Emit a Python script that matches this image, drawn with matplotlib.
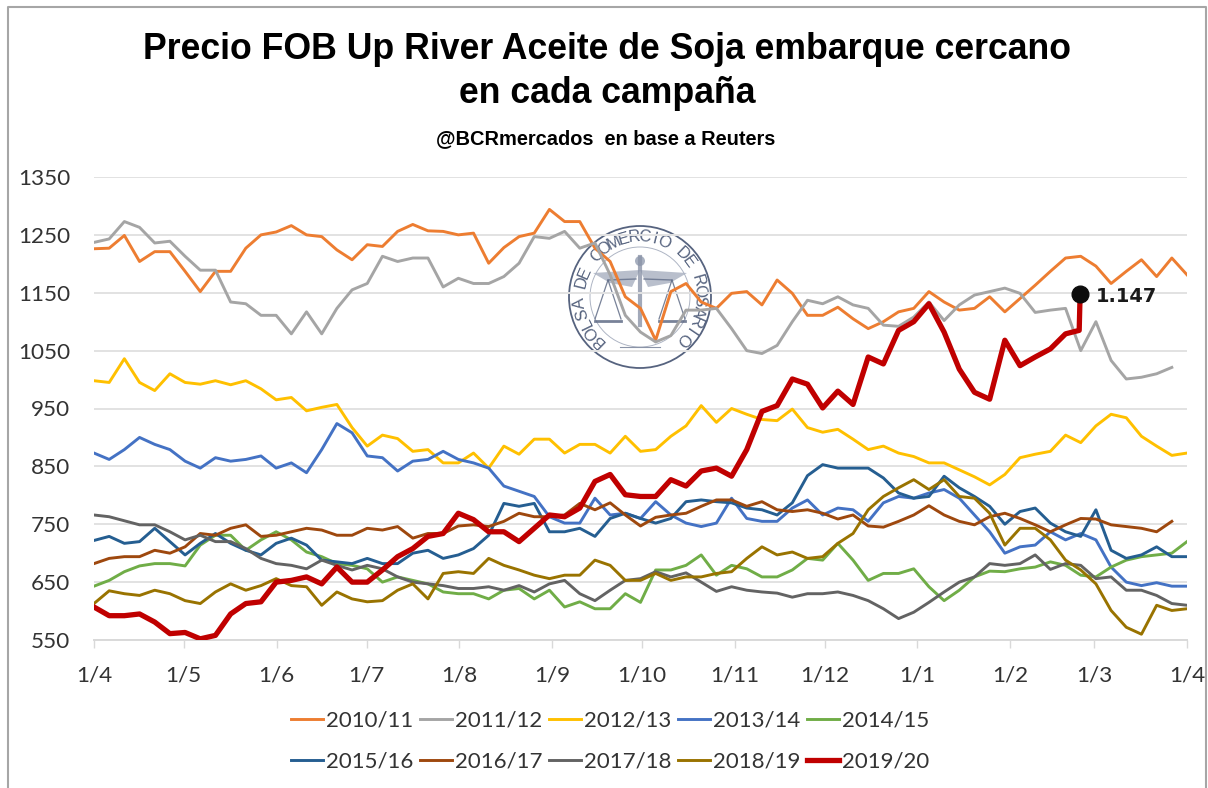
import numpy as np
import matplotlib
matplotlib.use("Agg")
import matplotlib.pyplot as plt
from matplotlib.patches import Circle, Polygon

TITLE = "Precio FOB Up River Aceite de Soja embarque cercano\nen cada campaña"
SUBTITLE = "@BCRmercados  en base a Reuters"
MONTH_LABELS = ["1/4","1/5","1/6","1/7","1/8","1/9","1/10","1/11","1/12","1/1","1/2","1/3","1/4"]
MONTH_DAYS = [0,30,61,91,122,153,183,214,244,275,306,334,365]
Y_TICKS = [550,650,750,850,950,1050,1150,1250,1350]
LAST_LABEL = "1.147"

s2010 = [1226,1227,1249,1204,1221,1221,1187,1152,1187,1187,1227,1250,1255,1266,1250,1247,1224,1207,1233,1230,1256,1268,1257,1256,1250,1253,1201,1228,1247,1253,1294,1273,1273,1227,1204,1143,1123,1068,1152,1166,1134,1123,1149,1152,1129,1172,1149,1111,1111,1125,1105,1088,1100,1117,1123,1152,1134,1120,1123,1143,1117,1140,1163,1187,1210,1213,1196,1166,1187,1207,1178,1210,1181]
s2011 = [1237,1243,1273,1263,1236,1239,1213,1189,1189,1134,1131,1111,1111,1079,1117,1079,1123,1155,1166,1213,1204,1210,1210,1160,1175,1166,1166,1178,1201,1247,1244,1256,1227,1236,1181,1111,1082,1065,1076,1120,1120,1123,1088,1050,1045,1059,1100,1137,1131,1143,1129,1123,1094,1092,1108,1134,1102,1129,1146,1152,1158,1149,1116,1120,1123,1050,1100,1033,1001,1004,1010,1021,np.nan]
s2012 = [998,995,1036,995,981,1010,995,992,998,991,998,984,965,969,946,952,957,917,885,904,898,876,879,856,856,873,847,885,871,897,897,873,888,888,873,902,876,879,902,920,955,926,950,940,931,929,949,917,909,914,897,879,885,873,867,856,856,844,832,818,836,865,871,876,904,891,920,940,934,902,885,869,873]
s2013 = [873,862,879,900,888,879,859,847,865,859,862,868,847,856,839,879,924,908,868,865,842,859,862,876,862,856,847,816,807,798,763,752,752,795,766,769,760,789,766,752,746,752,795,760,755,755,778,792,766,778,775,755,787,798,795,804,810,795,766,737,700,711,714,737,723,734,723,676,650,644,649,643,643]
s2014 = [643,653,668,678,682,682,678,714,731,731,705,723,737,723,702,694,682,679,673,650,659,653,647,633,630,630,621,636,639,621,636,607,616,604,604,630,615,671,671,679,697,662,679,673,659,659,671,691,688,717,688,653,665,665,673,642,618,636,659,669,668,673,676,685,679,662,659,676,688,694,697,700,720]
s2015 = [722,729,717,720,743,720,697,717,734,717,705,697,717,726,714,688,685,682,691,682,682,700,705,691,697,708,731,786,781,786,737,737,743,729,760,769,760,752,760,789,792,789,787,778,775,766,787,834,853,847,847,847,830,804,795,798,833,813,798,781,750,772,778,752,737,729,775,705,691,697,711,694,694]
s2016 = [682,691,694,694,705,700,711,734,731,743,749,729,731,737,743,740,731,731,743,740,746,726,734,734,747,749,746,755,769,763,763,766,786,775,787,766,747,762,766,769,781,792,792,781,789,775,772,775,769,759,766,747,745,755,766,782,766,755,749,763,769,760,749,737,749,760,759,749,746,743,737,755,np.nan]
s2017 = [766,763,756,749,749,737,723,731,720,720,708,691,682,679,673,688,679,671,679,673,659,650,647,644,639,639,642,636,644,633,647,653,630,618,636,653,656,668,659,666,650,634,642,636,633,631,624,630,630,633,627,618,604,587,598,615,633,650,659,682,679,682,697,672,682,679,656,659,636,636,627,613,610]
s2018 = [613,635,630,627,636,630,618,613,633,647,636,644,656,644,642,610,633,621,616,618,636,647,621,665,668,665,691,679,671,662,656,662,662,688,679,653,653,665,653,659,659,665,668,691,711,697,702,691,694,717,734,775,798,813,827,810,827,798,795,769,714,743,743,723,688,671,647,601,572,560,610,601,604]
s2019 = [607,592,592,595,581,561,563,552,558,595,613,616,650,653,659,647,676,650,650,671,694,708,729,734,769,758,737,737,720,743,766,763,778,824,836,801,798,798,827,816,842,847,833,879,945,955,1001,992,951,980,957,1039,1027,1085,1100,1131,1082,1018,978,966,1068,1024,1039,1053,1079,1085,1147]

SERIES = [("2010/11",s2010,"#ED7D31",2.1),("2011/12",s2011,"#A5A5A5",2.1),("2012/13",s2012,"#FFC000",2.1),
          ("2013/14",s2013,"#4472C4",2.1),("2014/15",s2014,"#70AD47",2.1),("2015/16",s2015,"#255E91",2.1),
          ("2016/17",s2016,"#9E480E",2.1),("2017/18",s2017,"#636363",2.1),("2018/19",s2018,"#997300",2.1),
          ("2019/20",s2019,"#C00000",3.8)]

W, H = 1208, 788
fig = plt.figure(figsize=(W/100, H/100), dpi=100, facecolor="white")

bg = fig.add_axes([0,0,1,1], zorder=0)
bg.set_xlim(0,W); bg.set_ylim(H,0); bg.axis("off")
bg.plot([8,8,1206,1206],[H,7,7,H],color="#A6A6A6",lw=1.5)

# watermark seal
SEAL = "#56637F"
cx, cy = 640, 297
bg.add_patch(Circle((cx,cy),71,fill=False,ec=SEAL,lw=1.3))
bg.add_patch(Circle((cx,cy),50,fill=False,ec="#AEB5C4",lw=0.7))
word = "BOLSA DE COMERCIO DE ROSARIO"
angles = np.linspace(-136,134,len(word))
for ch,a in zip(word,angles):
    r = np.radians(a)
    bg.text(cx+60*np.sin(r),cy-60*np.cos(r),ch,rotation=-a,rotation_mode="anchor",ha="center",va="center",
            fontsize=12,color=SEAL,family="Liberation Sans")
for side in (-1,1):
    bg.add_patch(Polygon([(cx,cy-27),(cx+side*47,cy-24),(cx+side*30,cy-14),(cx+side*8,cy-10)],color="#A8B0C0",alpha=.8,lw=0))
    px = cx+side*32
    bg.plot([px-13,px,px+13],[cy+22,cy-17,cy+22],color=SEAL,lw=0.9,alpha=.8)
    bg.plot([px-13,px+13],[cy+24,cy+24],color=SEAL,lw=2,alpha=.8)
    bg.plot([cx+side*4,px],[cy-18,cy-17],color=SEAL,lw=1,alpha=.7)
bg.plot([cx,cx],[cy-40,cy+28],color="#8B94A8",lw=3,alpha=.8)
bg.add_patch(Circle((cx,cy-36),5,fc="#A8B0C0",ec="none"))
bg.plot([cx-20,cx+20],[cy+50,cy+50],color="#8B94A8",lw=0.8)

ax = fig.add_axes([94/W,(H-640)/H,(1187-94)/W,(640-177)/H], zorder=1)
ax.patch.set_alpha(0)
days = np.arange(73)*365/72
for name,vals,col,lw in SERIES:
    v = np.array(vals,float)
    x = np.r_[days[:65],[329,329.3]] if name=="2019/20" else days
    ax.plot(x,v,color=col,lw=lw,label=name,solid_joinstyle="round",zorder=3 if name!="2019/20" else 4)

ax.plot([329.3],[s2019[-1]],"o",color="#0D0D0D",ms=12,zorder=5)
ax.annotate(LAST_LABEL,(329.3,s2019[-1]),xytext=(11.5,-1.5),textcoords="offset points",ha="left",va="center",
            fontsize=13.9,fontweight="bold",family="DejaVu Sans",color="#1A1A1A",zorder=6)

ax.set_xlim(0,365); ax.set_ylim(550,1350)
ax.set_yticks(Y_TICKS); ax.set_xticks(MONTH_DAYS); ax.set_xticklabels(MONTH_LABELS)
ax.grid(axis="y",color="#E2E2E2",lw=1.4); ax.set_axisbelow(True)
for s in ("top","right","left"): ax.spines[s].set_visible(False)
ax.spines["bottom"].set_color("#D9D9D9"); ax.spines["bottom"].set_linewidth(1.4)
ax.tick_params(axis="y",length=0,pad=17,labelsize=16.2,labelcolor="#333333")
ax.tick_params(axis="x",length=6,width=1,color="#D9D9D9",pad=12.5,labelsize=16.2,labelcolor="#333333")
for t in ax.get_xticklabels()+ax.get_yticklabels(): t.set_family("Lato")

fig.text(607/W,1-71.5/H,TITLE,ha="center",va="center",fontsize=25.7,fontweight="bold",family="Liberation Sans",color="black",linespacing=1.35,ma="center")
fig.text(606/W,1-139/H,SUBTITLE,ha="center",va="center",fontsize=14.4,fontweight="bold",family="Liberation Sans",color="black")

h,l = ax.get_legend_handles_labels()
order = [0,5,1,6,2,7,3,8,4,9]
leg = fig.legend([h[i] for i in order],[l[i] for i in order],ncol=5,loc="center",bbox_to_anchor=(610/W,1-741/H),
                 frameon=False,handlelength=1.45,handletextpad=0.15,columnspacing=0.27,labelspacing=0.95,
                 prop={"family":"Lato","size":16})
for t in leg.get_texts(): t.set_color("#333333")

fig.savefig("out.png",dpi=100)
